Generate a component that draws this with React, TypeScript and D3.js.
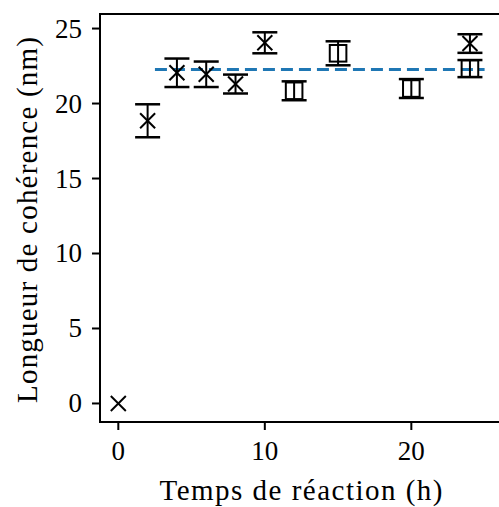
import React from "react";
import * as d3 from "d3";

// Series 1: "x" markers
const crossTimes = [0, 2, 4, 6, 8, 10, 24];
const crossValues = [0, 18.85, 22.05, 21.95, 21.3, 24.05, 24.0];
const crossErrors = [null, 1.1, 0.95, 0.85, 0.63, 0.7, 0.62];

// Series 2: open square markers
const squareTimes = [12, 15, 20, 24];
const squareValues = [20.85, 23.35, 21.0, 22.33];
const squareErrors = [0.63, 0.8, 0.63, 0.57];

// Mean dashed line
const meanSpan = [2.5, 25];
const meanValue = 22.27;

const xTicks = [0, 10, 20];
const yTicks = [0, 5, 10, 15, 20, 25];

const W = 499;
const H = 507;
const left = 100;
const top = 14;
const bottom = 422;

export default function App() {
  const x = d3.scaleLinear().domain([-1.25, 26.25]).range([left, 502.9]);
  const y = d3.scaleLinear().domain([-1.236, 25.97]).range([bottom, top]);
  const font = "Liberation Serif";
  const capHalf = 12.5;

  const errorBar = (t: number, v: number, e: number | null, key: string) => {
    if (e == null) return null;
    const cx = x(t);
    return (
      <g key={key} stroke="#000">
        <line x1={cx} x2={cx} y1={y(v - e)} y2={y(v + e)} strokeWidth={2} />
        <line x1={cx - capHalf} x2={cx + capHalf} y1={y(v + e)} y2={y(v + e)} strokeWidth={2.5} />
        <line x1={cx - capHalf} x2={cx + capHalf} y1={y(v - e)} y2={y(v - e)} strokeWidth={2.5} />
      </g>
    );
  };

  const ms = 7.5;
  const sq = 8.3;

  return (
    <svg width={W} height={H} style={{ position: "absolute", left: 0, top: 0 }}>
      <rect x={0} y={0} width={W} height={H} fill="#fff" />
      <defs>
        <clipPath id="plotclip">
          <rect x={left} y={top} width={W - left} height={bottom - top} />
        </clipPath>
      </defs>
      <g clipPath="url(#plotclip)">
        <line
          x1={x(meanSpan[0])}
          x2={x(meanSpan[1])}
          y1={y(meanValue)}
          y2={y(meanValue)}
          stroke="#1f77b4"
          strokeWidth={3}
          strokeDasharray="12 6"
        />
        {crossTimes.map((t, i) => errorBar(t, crossValues[i], crossErrors[i], "ce" + i))}
        {crossTimes.map((t, i) => {
          const cx = x(t);
          const cy = y(crossValues[i]);
          return (
            <g key={"cm" + i} stroke="#000" strokeWidth={2}>
              <line x1={cx - ms} x2={cx + ms} y1={cy - ms} y2={cy + ms} />
              <line x1={cx - ms} x2={cx + ms} y1={cy + ms} y2={cy - ms} />
            </g>
          );
        })}
        {squareTimes.map((t, i) => errorBar(t, squareValues[i], squareErrors[i], "se" + i))}
        {squareTimes.map((t, i) => (
          <rect
            key={"sm" + i}
            x={x(t) - sq}
            y={y(squareValues[i]) - sq}
            width={2 * sq}
            height={2 * sq}
            fill="none"
            stroke="#000"
            strokeWidth={2}
          />
        ))}
      </g>
      {/* spines */}
      <g stroke="#000" strokeWidth={2} fill="none">
        <line x1={left} x2={left} y1={top} y2={bottom + 1} />
        <line x1={left - 1} x2={W} y1={bottom} y2={bottom} />
        <line x1={left - 1} x2={W} y1={top} y2={top} />
      </g>
      {/* x ticks */}
      {xTicks.map((t) => (
        <g key={"xt" + t}>
          <line x1={x(t)} x2={x(t)} y1={bottom} y2={bottom + 8} stroke="#000" strokeWidth={2} />
          <text x={x(t)} y={460} textAnchor="middle" fontFamily={font} fontSize={27} fill="#000">
            {t}
          </text>
        </g>
      ))}
      {/* y ticks */}
      {yTicks.map((t) => (
        <g key={"yt" + t}>
          <line x1={left - 8} x2={left} y1={y(t)} y2={y(t)} stroke="#000" strokeWidth={2} />
          <text x={82} y={y(t) + 9} textAnchor="end" fontFamily={font} fontSize={27} fill="#000">
            {t}
          </text>
        </g>
      ))}
      <text
        x={301}
        y={500}
        textAnchor="middle"
        fontFamily={font}
        fontSize={29}
        fill="#000"
        textLength={283}
        lengthAdjust="spacing"
      >
        Temps de réaction (h)
      </text>
      <text
        transform={`translate(37, 220) rotate(-90)`}
        textAnchor="middle"
        fontFamily={font}
        fontSize={29}
        fill="#000"
        textLength={366}
        lengthAdjust="spacing"
      >
        Longueur de cohérence (nm)
      </text>
    </svg>
  );
}
